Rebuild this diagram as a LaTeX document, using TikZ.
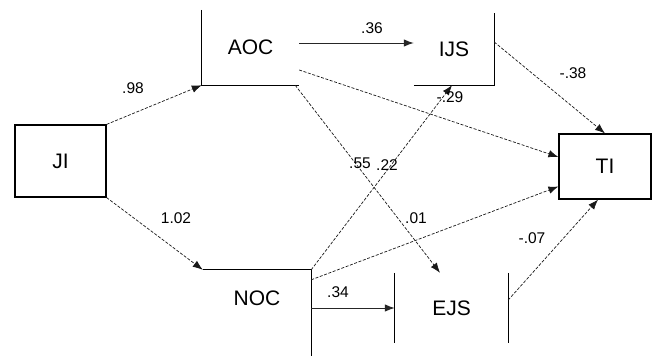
\documentclass[tikz,border=0pt]{standalone}
\usepackage{fontspec}
\setmainfont{Liberation Sans}
\usetikzlibrary{arrows.meta}
\begin{document}
\begin{tikzpicture}[x=1pt,y=-1pt,
  var/.style={rectangle,inner sep=0pt,font=\fontsize{21}{24}\selectfont},
  coef/.style={inner sep=0pt,font=\fontsize{15.5}{18}\selectfont},
  edgeline/.style={line width=1.2pt,black},
  tip/.style={-{Latex[length=10pt,width=7.5pt]}},
  path/.style={tip,line width=0.7pt,gray!20!black,dash pattern=on 3pt off 1.6pt},
  solidpath/.style={tip,line width=1pt,black!85}]
\useasboundingbox (0,0) rectangle (655,356);
\fill[white] (0,0) rectangle (655,356);

% latent variables
\node[var,draw,line width=1.2pt,minimum width=91,minimum height=72] (ji) at (60.5,161) {JI};
\node[var,minimum width=97,minimum height=75] (aoc) at (250.5,47.5) {AOC};
\node[var,minimum width=80,minimum height=72] (ijs) at (454,49) {IJS};
\node[var,draw,line width=1.2pt,minimum width=92,minimum height=65] (ti) at (605,166.5) {TI};
\node[var,minimum width=108,minimum height=56] (noc) at (257,298) {NOC};
\node[var,minimum width=113,minimum height=70] (ejs) at (451.5,308) {EJS};
\coordinate (bottom) at (0,356);

% open box outlines
\draw[edgeline] (aoc.north west) -- (aoc.south west) -- (aoc.south east);
\draw[edgeline] (ijs.south west) -- (ijs.south east) -- (ijs.north east);
\draw[edgeline] (noc.north west) -- (noc.north east) -- (noc.north east |- bottom);
\draw[edgeline] (ejs.north west) -- (ejs.south west);
\draw[edgeline] (ejs.north east) -- (ejs.south east);

% paths
\draw[path] (ji.north east) -- (aoc.south west);
\draw[path] (ji.south east) -- (noc.north west);
\draw[solidpath] ([yshift=4.5pt]aoc.east) -- ([yshift=6pt]ijs.west);
\draw[path] ([yshift=7pt]ijs.east) -- (ti.north);
\draw[path] ([yshift=-22.5pt]aoc.east) -- ([yshift=9.5pt]ti.west);
\draw[path] ([xshift=-4pt]aoc.south east) -- ([xshift=-11.5pt]ejs.north);
\draw[path] (noc.north east) -- ([xshift=-2pt]ijs.south);
\draw[path] ([yshift=-10pt]noc.north east) -- ([yshift=-20pt]ti.west);
\draw[solidpath] (noc.east |- ejs.west) -- (ejs.west);
\draw[path] ([yshift=8pt]ejs.east) -- ([xshift=-7pt]ti.south);

% coefficients
\node[coef] (c1) at (133,88) {.98};
\node[coef] (c2) at (176,218) {1.02};
\node[coef] (c3) at (372,28) {.36};
\node[coef] (c4) at (573,73) {-.38};
\node[coef] (c5) at (450,97) {-.29};
\node[coef] (c6) at (360,163) {.55};
\node[coef] (c7) at (387,165) {.22};
\node[coef] (c8) at (416,218) {.01};
\node[coef] (c9) at (338,292) {.34};
\node[coef] (c10) at (532,238) {-.07};
\end{tikzpicture}
\end{document}
